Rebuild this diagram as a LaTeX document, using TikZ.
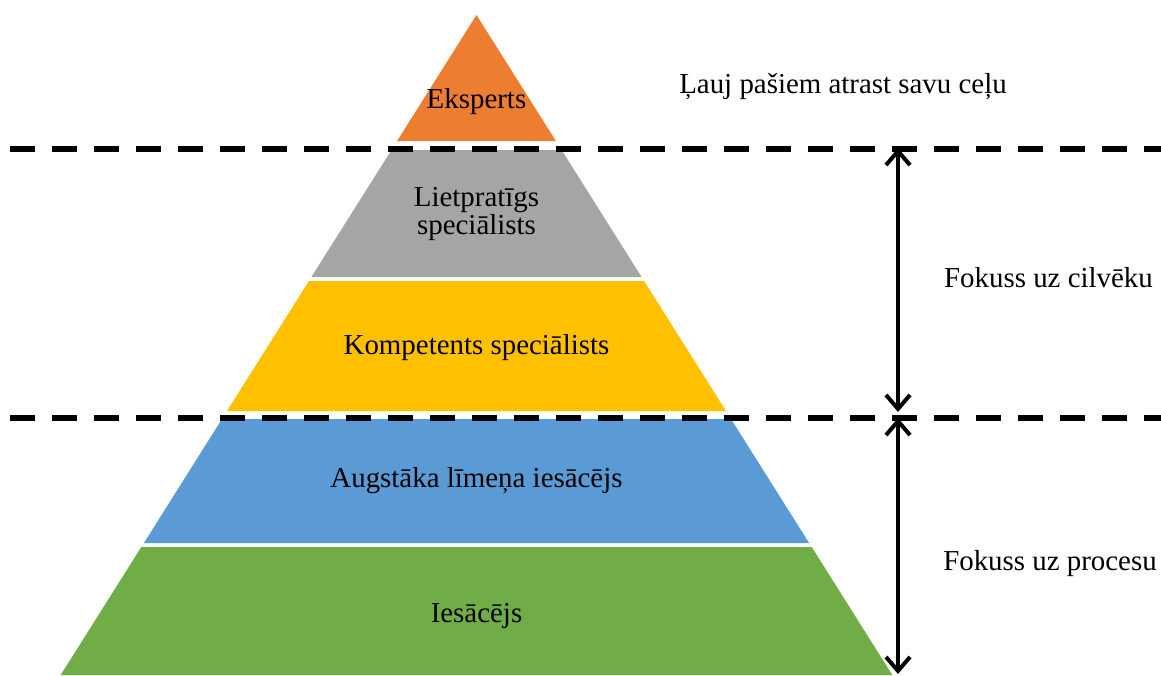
\documentclass[tikz,border=0pt]{standalone}
\usepackage{fontspec}
\setmainfont{Liberation Serif}
\usetikzlibrary{arrows.meta}
\definecolor{cOrange}{HTML}{ED7D31}
\definecolor{cGray}{HTML}{A5A5A5}
\definecolor{cYellow}{HTML}{FFC000}
\definecolor{cBlue}{HTML}{5B9BD5}
\definecolor{cGreen}{HTML}{70AD47}
\tikzset{
  lbl/.style={anchor=base, inner sep=0pt, font=\fontsize{28.9}{27}\selectfont, text=black},
  divider/.style={line width=6pt, dash pattern=on 25pt off 17pt},
  span/.style={line width=4pt, {Straight Barb[length=14pt,width=24pt,line width=4pt]}-{Straight Barb[length=14pt,width=24pt,line width=4pt]}}
}
\begin{document}
\begin{tikzpicture}[x=1pt,y=-1pt]
\useasboundingbox (0,0) rectangle (1161,675);
% pyramid bands
\fill[cOrange] (476.5,15) -- (555.9,141) -- (397.1,141) -- cycle;
\fill[cGray] (391.5,150) -- (561.6,150) -- (641.6,277) -- (311.4,277) -- cycle;
\fill[cYellow] (308.9,281) -- (644.1,281) -- (726.0,411) -- (227.0,411) -- cycle;
\fill[cBlue] (222.0,419) -- (731.0,419) -- (809.1,543) -- (143.9,543) -- cycle;
\fill[cGreen] (141.3,547) -- (811.7,547) -- (892.3,675) -- (60.7,675) -- cycle;
% labels in pyramid
\node[lbl] (eks) at (476.5,108) {Eksperts};
\node[lbl] (lie) at (476.5,206) {\begin{tabular}[t]{@{}c@{}}Lietpratīgs\\speciālists\end{tabular}};
\node[lbl] (kom) at (476.5,354) {Kompetents speciālists};
\node[lbl] (aug) at (476.5,487) {Augstāka līmeņa iesācējs};
\node[lbl] (ies) at (476.5,622) {Iesācējs};
% dividers
\coordinate (d1a) at (10,148.5);
\coordinate (d1b) at (1161,148.5);
\coordinate (d2a) at (10,418);
\coordinate (d2b) at (1161,418);
\draw[divider] (d1a) -- (d1b);
\draw[divider] (d2a) -- (d2b);
% arrows
\coordinate (a1t) at (898,148);
\coordinate (a1b) at (898,412);
\coordinate (a2t) at (898,418);
\coordinate (a2b) at (898,674);
\draw[span] (a1t) -- (a1b);
\draw[span] (a2t) -- (a2b);
% right labels
\node[lbl] (lauj) at (843,93) {Ļauj pašiem atrast savu ceļu};
\node[lbl] (cilv) at (1048.5,287) {Fokuss uz cilvēku};
\node[lbl] (proc) at (1050,570) {Fokuss uz procesu};
\end{tikzpicture}
\end{document}
